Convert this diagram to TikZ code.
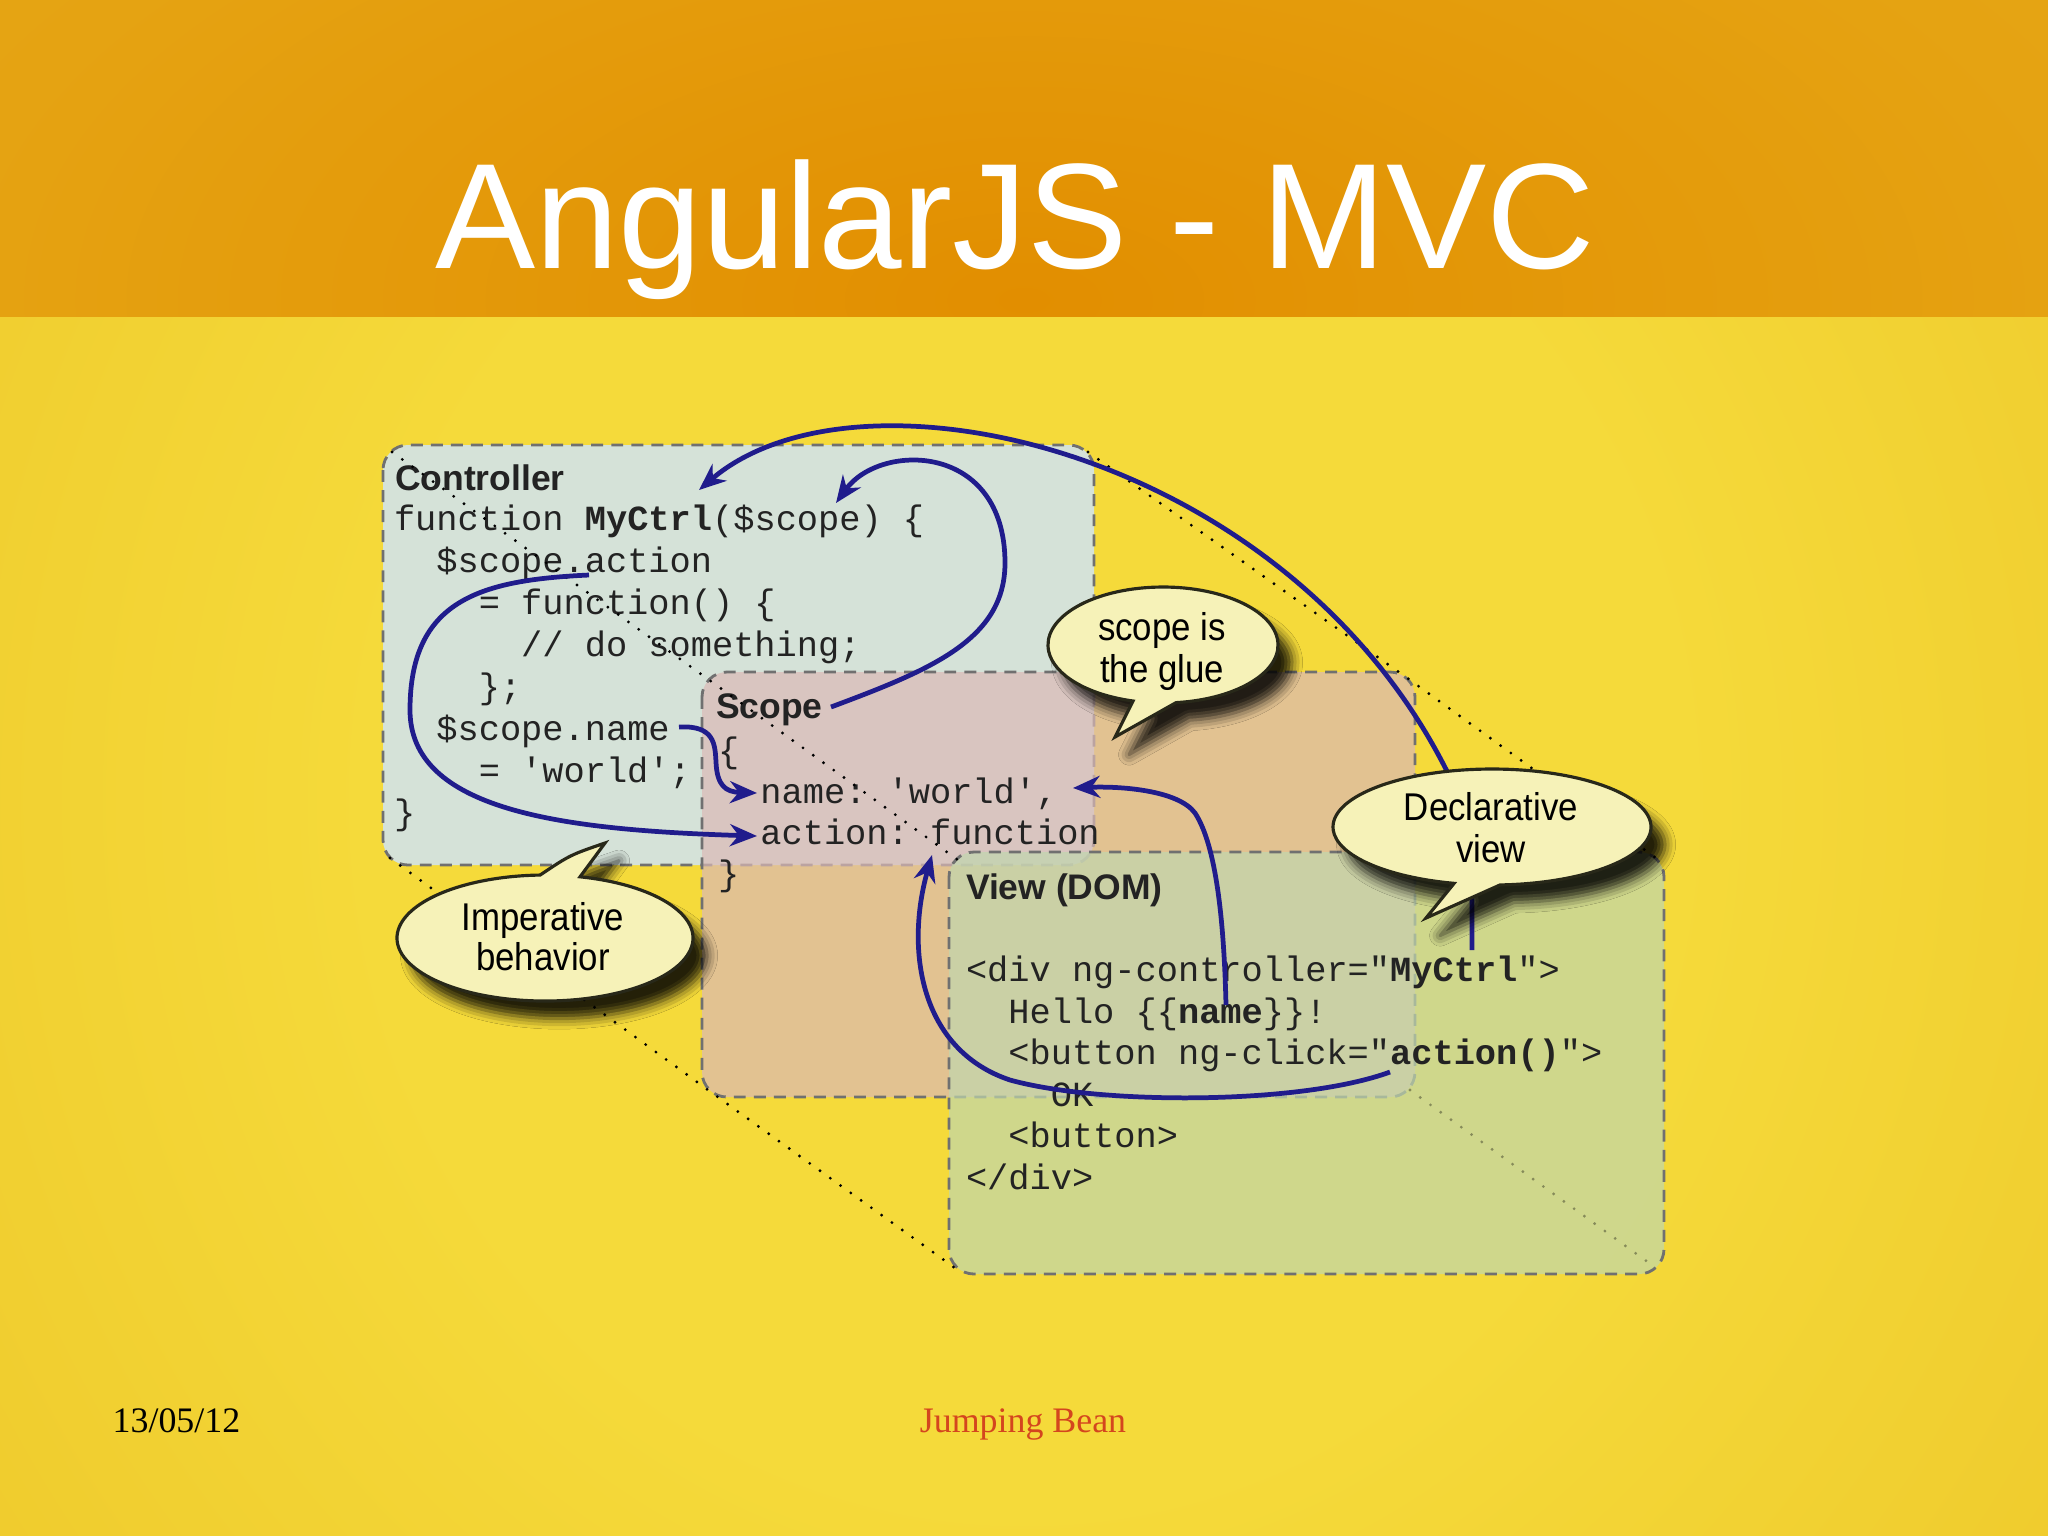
\documentclass[tikz,border=0pt]{standalone}
\usepackage{fontspec}
\setmainfont{Liberation Serif}
\setsansfont{Liberation Sans}
\setmonofont{Liberation Mono}
\newfontfamily\calloutfont{Liberation Sans}[FakeStretch=0.9]
\usetikzlibrary{arrows.meta,shadows.blur}
\definecolor{bandC}{RGB}{226,142,0}
\definecolor{bandM}{RGB}{229,163,18}
\definecolor{bandE}{RGB}{231,175,32}
\definecolor{bgC}{RGB}{245,218,58}
\definecolor{bgM}{RGB}{238,200,42}
\definecolor{bgE}{RGB}{229,172,32}
\definecolor{ctrlfill}{RGB}{213,226,216}
\definecolor{scopefill}{RGB}{219,185,182}
\definecolor{viewfill}{RGB}{192,215,174}
\definecolor{boxline}{RGB}{112,112,112}
\definecolor{codetext}{RGB}{35,35,35}
\definecolor{flowblue}{RGB}{32,28,140}
\definecolor{callfill}{RGB}{246,242,184}
\definecolor{callline}{RGB}{40,40,25}
\definecolor{footred}{RGB}{212,70,30}
\pgfdeclareradialshading{bgshade}{\pgfpoint{0bp}{0bp}}{color(0bp)=(bgC); color(16bp)=(bgC); color(34bp)=(bgM); color(50bp)=(bgE)}
\pgfdeclareradialshading{bandshade}{\pgfpoint{0bp}{0bp}}{color(0bp)=(bandC); color(22bp)=(bandM); color(50bp)=(bandE)}
\begin{document}
\begin{tikzpicture}[x=0.01cm,y=0.01cm,
  box/.style={draw=boxline,line width=0.8pt,dash pattern=on 3.4pt off 2.3pt,rounded corners=0.25cm},
  code/.style={anchor=base west,inner sep=0pt,outer sep=0pt,text=codetext,font=\fontsize{10.05}{12}\ttfamily},
  head/.style={anchor=base west,inner sep=0pt,outer sep=0pt,text=codetext,font=\fontsize{10.1}{12}\sffamily\bfseries},
  flow/.style={draw=flowblue,line width=1.35pt,-{Stealth[length=0.27cm,width=0.22cm]}},
  persp/.style={draw=black,line width=0.9pt,dash pattern=on 0pt off 3.6pt,line cap=round},
  callout/.style={fill=callfill,draw=callline,line width=0.9pt,blur shadow={shadow xshift=4pt,shadow yshift=-5pt,shadow blur radius=3pt,shadow opacity=85}},
  calltext/.style={anchor=base,inner sep=0pt,outer sep=0pt,text=black,font=\fontsize{11}{13}\calloutfont}
]
\useasboundingbox (0,0) rectangle (2048,-1535);
% background
\begin{scope}
\clip (0,-316) rectangle (2048,-1535);
\shade[shading=bgshade] (0,300) rectangle (2048,-1900);
\end{scope}
\begin{scope}
\clip (0,0) rectangle (2048,-316);
\shade[shading=bandshade] (-200,300) rectangle (2248,-900);
\end{scope}
% title and footer
\node[anchor=base,inner sep=0pt,text=white,font=\fontsize{42.7}{50}\sffamily] (title) at (1015,-268) {AngularJS - MVC};
\node[anchor=base west,inner sep=0pt,font=\fontsize{10.2}{12}\rmfamily] (date) at (112,-1432) {13/05/12};
\node[anchor=base,inner sep=0pt,text=footred,font=\fontsize{10.2}{12}\rmfamily] (brand) at (1023,-1432) {Jumping Bean};
% boxes
\coordinate (ctlTL) at (383,-445); \coordinate (ctlBR) at (1094,-865);
\coordinate (scpTL) at (702,-672); \coordinate (scpBR) at (1415,-1097);
\coordinate (vwTL) at (949,-852); \coordinate (vwBR) at (1664,-1274);
\draw[box,fill=ctrlfill] (ctlTL) rectangle (ctlBR);
\draw[box,fill=scopefill,fill opacity=0.7] (scpTL) rectangle (scpBR);
\draw[box,fill=viewfill,fill opacity=0.7] (vwTL) rectangle (vwBR);
% controller text
\node[head] (ctlhead) at (395,-490) {Controller};
\node[code] (c1) at (394,-530) {function \textbf{MyCtrl}(\$scope) \{};
\node[code] (c2) at (436.4,-572) {\$scope.action};
\node[code] (c3) at (478.8,-614) {= function() \{};
\node[code] (c4) at (521.2,-656) {// do something;};
\node[code] (c5) at (478.8,-698) {\};};
\node[code] (c6) at (436.4,-740) {\$scope.name};
\node[code] (c7) at (478.8,-782) {= 'world';};
\node[code] (c8) at (394,-824) {\}};
% scope text
\node[head] (scphead) at (716,-718) {Scope};
\node[code] (s1) at (718,-762) {\{};
\node[code] (s2) at (760.4,-803) {name: 'world',};
\node[code] (s3) at (760.4,-844) {action: function};
\node[code] (s4) at (718,-885) {\}};
% view text
\node[head] (vwhead) at (966,-899) {View (DOM)};
\node[code] (v1) at (966,-981) {<div ng-controller="\textbf{MyCtrl}">};
\node[code] (v2) at (1008.4,-1023) {Hello \{\{\textbf{name}\}\}!};
\node[code] (v3) at (1008.4,-1064) {<button ng-click="\textbf{action()}">};
\node[code] (v4) at (1050.8,-1106) {OK};
\node[code] (v5) at (1008.4,-1147) {<button>};
\node[code] (v6) at (966,-1189) {</div>};
% perspective lines
\draw[persp] (392,-452) -- (712,-682) -- (958,-860);
\draw[persp] (1088,-452) -- (1410,-680) -- (1656,-858);
\draw[persp] (390,-858) -- (708,-1090) -- (955,-1268);
\draw[persp,draw opacity=0.35] (1410,-1090) -- (1656,-1268);
% flow arrows
\coordinate (a0) at (1472,-950); \coordinate (a1) at (699,-490);
\draw[flow] (a0) -- (1472,-875) .. controls (1472,-830) and (1465,-810) .. (1456,-790) .. controls (1300,-450) and (860,-352) .. (a1);
\coordinate (b0) at (831,-707); \coordinate (b1) at (836,-503);
\draw[flow] (b0) .. controls (930,-670) and (1005,-640) .. (1005,-563) .. controls (1005,-442) and (880,-442) .. (b1);
\coordinate (c0) at (589,-575); \coordinate (c1e) at (757,-836);
\draw[flow] (c0) .. controls (480,-580) and (410,-600) .. (410,-710) .. controls (410,-810) and (560,-830) .. (c1e);
\coordinate (d0) at (679,-727); \coordinate (d1) at (757,-793);
\draw[flow] (d0) .. controls (715,-725) and (715,-745) .. (716,-762) .. controls (717,-785) and (725,-792) .. (d1);
\coordinate (e0) at (1226,-1005); \coordinate (e1) at (1073,-788);
\draw[flow] (e0) .. controls (1224,-920) and (1216,-845) .. (1195,-813) .. controls (1178,-790) and (1120,-786) .. (e1);
\coordinate (f0) at (1390,-1072); \coordinate (f1) at (932,-855);
\draw[flow] (f0) .. controls (1300,-1105) and (1100,-1105) .. (1010,-1080) .. controls (920,-1050) and (905,-950) .. (f1);
% callouts
\coordinate (imp) at (545,-938); \coordinate (imptip) at (605,-843);
\path[callout] ([shift={(76.3:148 and 63)}]imp) arc[start angle=76.3,end angle=-268.1,x radius=148,y radius=63] .. controls (570,-855) .. (imptip) -- cycle;
\node[calltext] (imp1) at (543,-930) {Imperative};
\node[calltext] (imp2) at (543,-970) {behavior};
\coordinate (glue) at (1163,-645); \coordinate (gluetip) at (1115,-737);
\path[callout] ([shift={(-83.5:115 and 58)}]glue) arc[start angle=-83.5,end angle=254.9,x radius=115,y radius=58] -- (gluetip) -- cycle;
\node[calltext] (glue1) at (1162,-640) {scope is};
\node[calltext] (glue2) at (1162,-682) {the glue};
\coordinate (decl) at (1492,-827); \coordinate (decltip) at (1426,-918);
\path[callout] ([shift={(-87.1:159 and 58)}]decl) arc[start angle=-87.1,end angle=256.2,x radius=159,y radius=58] -- (decltip) -- cycle;
\node[calltext] (decl1) at (1491,-820) {Declarative};
\node[calltext] (decl2) at (1491,-862) {view};
\end{tikzpicture}
\end{document}
